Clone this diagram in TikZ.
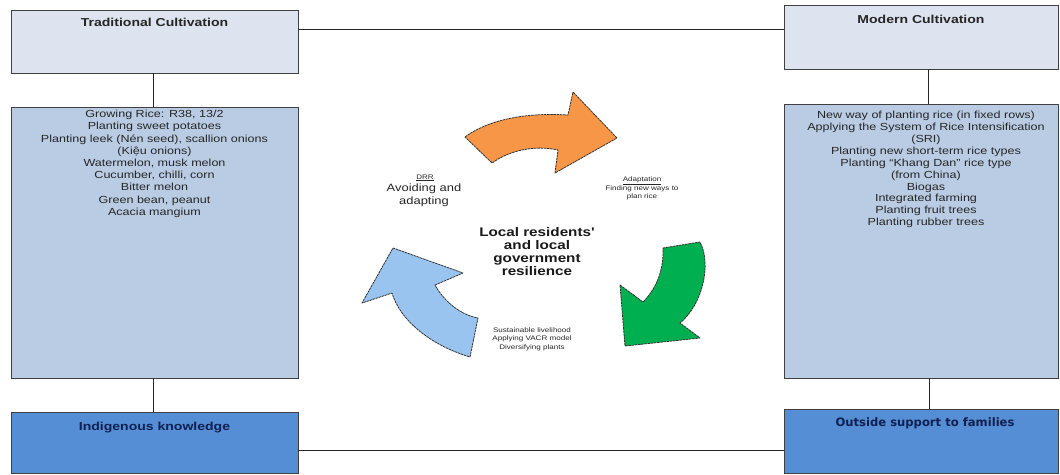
\documentclass[tikz,border=0pt]{standalone}
\usepackage{fontspec}
\setmainfont{Liberation Sans}
\newfontfamily\widesans[FakeStretch=1.22]{Liberation Sans}
\newfontfamily\verd{DejaVu Sans}
\usetikzlibrary{calc}

\definecolor{topfill}{RGB}{221,228,239}
\definecolor{listfill}{RGB}{185,204,228}
\definecolor{basefill}{RGB}{85,142,213}
\definecolor{framegray}{RGB}{64,64,64}
\definecolor{navytext}{RGB}{16,32,80}
\definecolor{arroworange}{RGB}{247,150,70}
\definecolor{arrowgreen}{RGB}{0,176,80}
\definecolor{arrowblue}{RGB}{153,196,240}

\tikzset{
  panel/.style={draw=framegray, line width=1pt, inner sep=0pt, outer sep=0pt},
  link/.style={draw=black!85, line width=1pt},
  paneltitle/.style={inner sep=0pt, anchor=base, text=black!85,
    font=\widesans\bfseries\fontsize{11.5}{14}\selectfont},
  basetitle/.style={inner sep=0pt, anchor=base, text=navytext},
  listtext/.style={inner sep=0pt, anchor=north, align=center, text=black!85},
  hubtext/.style={inner sep=0pt, align=center, text=black!90,
    font=\widesans\bfseries\fontsize{12.5}{13}\selectfont},
  tinytext/.style={inner sep=0pt, align=center, text=black!85,
    font=\widesans\fontsize{6.6}{8.6}\selectfont},
  cyclearrow/.style={draw=black!80, line width=0.8pt, line join=round,
    dash pattern=on 2.5pt off 0.7pt},
}

\begin{document}
\begin{tikzpicture}[x=1pt, y=-1pt]
\useasboundingbox (0,0) rectangle (1060,474);

% left column
\node[panel, fill=topfill, minimum width=287pt, minimum height=63pt] (trad) at (154.5,41.5) {};
\node[panel, fill=listfill, minimum width=287pt, minimum height=271pt] (tradlist) at (154.5,242.5) {};
\node[panel, fill=basefill, minimum width=287pt, minimum height=61pt] (indig) at (154.5,442.5) {};

% right column
\node[panel, fill=topfill, minimum width=274pt, minimum height=64pt] (modern) at (921,37) {};
\node[panel, fill=listfill, minimum width=274pt, minimum height=274pt] (modernlist) at (921,241) {};
\node[panel, fill=basefill, minimum width=274pt, minimum height=64pt] (outside) at (921,441) {};

% connecting lines
\draw[link] ([yshift=12.5pt]trad.east) -- ([yshift=8pt]modern.west);
\draw[link] ([yshift=-7.5pt]indig.east) -- ([yshift=-9pt]outside.west);
\draw[link] ([xshift=-1.5pt]trad.south) -- ([xshift=-1.5pt]tradlist.north);
\draw[link] ([xshift=-1.5pt]tradlist.south) -- ([xshift=-1.5pt]indig.north);
\draw[link] ([xshift=7pt]modern.south) -- ([xshift=7pt]modernlist.north);
\draw[link] ([xshift=8pt]modernlist.south) -- ([xshift=8pt]outside.north);

% titles
\node[paneltitle] (tradtitle) at ([yshift=-16pt]trad.north) {Traditional Cultivation};
\node[paneltitle] (moderntitle) at ([yshift=-18pt]modern.north) {Modern Cultivation};
\node[basetitle, font=\widesans\bfseries\fontsize{11.5}{14}\selectfont] (indigtitle)
  at ([yshift=-18pt]indig.north) {Indigenous knowledge};
\node[basetitle, font=\verd\bfseries\fontsize{11.6}{14}\selectfont] (outsidetitle)
  at ([xshift=4pt,yshift=-17pt]outside.north) {Outside support to families};

% list contents
\node[listtext, font=\widesans\fontsize{10.3}{12.2}\selectfont] (tradtext)
  at ([yshift=-3pt]tradlist.north) {Growing Rice: R38, 13/2\\
  Planting sweet potatoes\\
  Planting leek (Nén seed), scallion onions\\
  (Kiệu onions)\\
  Watermelon, musk melon\\
  Cucumber, chilli, corn\\
  Bitter melon\\
  Green bean, peanut\\
  Acacia mangium};
\node[listtext, font=\widesans\fontsize{10.3}{11.9}\selectfont] (moderntext)
  at ([xshift=5pt,yshift=-7pt]modernlist.north) {New way of planting rice (in fixed rows)\\
  Applying the System of Rice Intensification\\
  (SRI)\\
  Planting new short-term rice types\\
  Planting “Khang Dan” rice type\\
  (from China)\\
  Biogas\\
  Integrated farming\\
  Planting fruit trees\\
  Planting rubber trees};

% cycle of arrows
\path[cyclearrow, fill=arroworange] (465,137) .. controls (485,122) and (520,112) .. (568,115)
  -- (573,92) -- (617,138) -- (555,173) -- (558,150)
  .. controls (535,145) and (510,150) .. (492,163) -- cycle;
\path[cyclearrow, fill=arrowgreen] (663,248) -- (700,242)
  .. controls (712,265) and (702,305) .. (680,323)
  -- (700,338) -- (625,346) -- (620,285) -- (643,302)
  .. controls (655,290) and (664,272) .. cycle;
\path[cyclearrow, fill=arrowblue] (393,248) -- (463,273) -- (435,285)
  .. controls (443,300) and (460,315) .. (478,318)
  -- (470,357)
  .. controls (430,345) and (400,320) .. (392,293)
  -- (362,303) -- cycle;

% hub and cycle labels
\node[hubtext] (hub) at (537,251.5) {Local residents'\\and local\\government\\resilience};
\node[tinytext] (drrhead) at (425,178) {\underline{DRR}};
\node[inner sep=0pt, align=center, text=black!85,
  font=\widesans\fontsize{10.6}{13}\selectfont] (drrtext) at (424,195) {Avoiding and\\adapting};
\node[tinytext] (adapt) at (642,188.5) {\underline{Adaptation}\\Finding new ways to\\plan rice};
\node[tinytext] (liveli) at (532,339) {Sustainable livelihood\\Applying VACR model\\Diversifying plants};
\end{tikzpicture}
\end{document}
